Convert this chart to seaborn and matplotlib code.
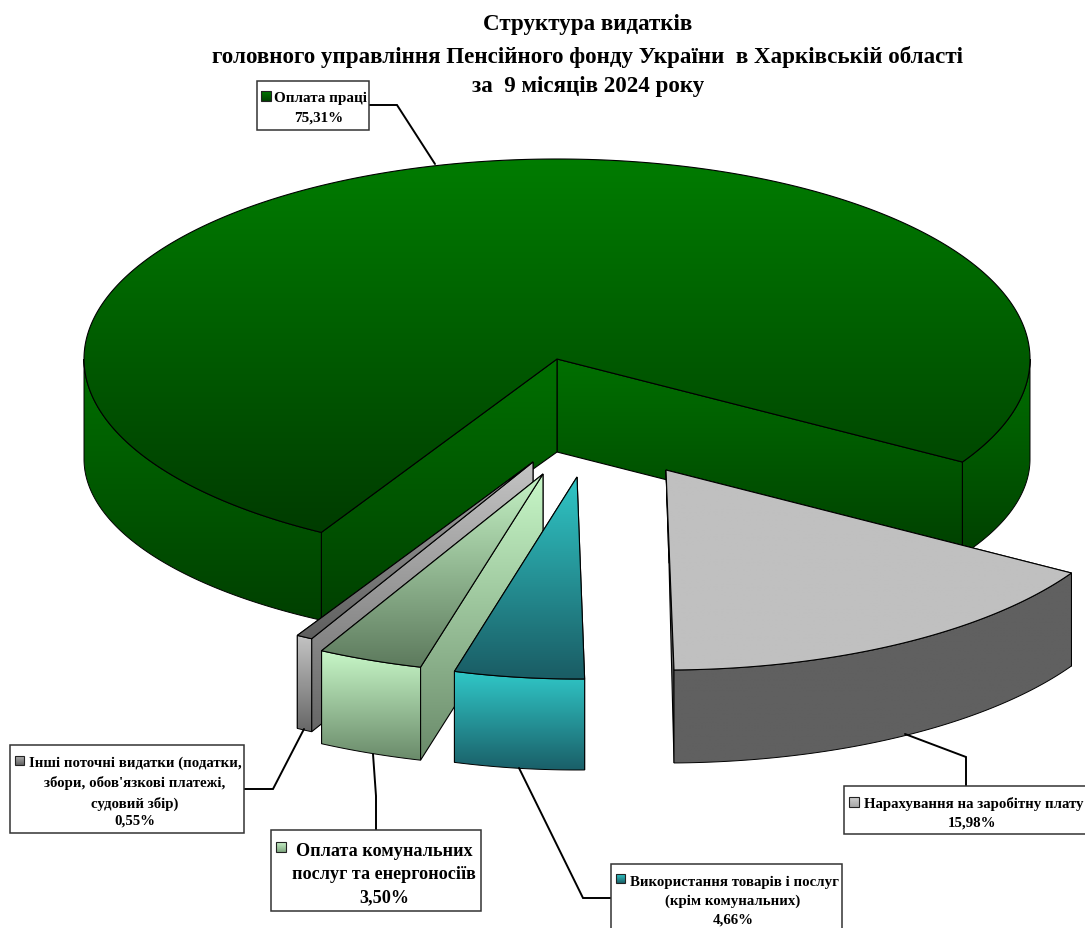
import numpy as np
import matplotlib
matplotlib.use("Agg")
import matplotlib.pyplot as plt
from matplotlib.patches import Polygon, Rectangle
import seaborn as sns

# ---------- data ----------
slice_names = ["Нарахування на заробітну плату", "Використання товарів і послуг",
               "Оплата комунальних", "Інші поточні видатки", "Оплата праці"]
slice_shares = [15.98, 4.66, 3.50, 0.55, 75.31]
title_lines = ["Структура видатків",
               "головного управління Пенсійного фонду України  в Харківській області",
               "за  9 місяців 2024 року"]
label_lines = [
    ["Нарахування на заробітну плату", "15,98%"],
    ["Використання товарів і послуг", "(крім комунальних)", "4,66%"],
    ["Оплата комунальних", "послуг та енергоносіїв", "3,50%"],
    ["Інші поточні видатки (податки,", "збори, обов'язкові платежі,", "судовий збір)", "0,55%"],
    ["Оплата праці", "75,31%"],
]

# ---------- style / layout ----------
START_ANGLE = 31.0
rxs = [473, 450, 473, 473, 473]
rys = [200, 202, 200, 200, 200]
angle_nudge = [(0, 0.5), (0.5, 0.5), (-0.3, 0), (0, 0), (0, 0)]
centres = [(666, 471), (577, 478), (543, 475), (533, 463), (557, 360)]
drops = [93, 91, 93, 93, 100]
ry_scale = [1, 1, 1, 1, 0.93]
apex_drop = [93, 92, 93, 93, 93]
apex_dx = [3, 0, 0, 0, 0]
top_cols = [("#c0c0c0", "#c0c0c0"), ("#30c6c6", "#1a5c64"), ("#c6f4c6", "#5d7a5d"),
            ("#a8a8a8", "#5e5e5e"), ("#007c00", "#003c00")]
wall_cols = [("#606060", "#606060"), ("#30c8c8", "#1a5f68"), ("#c8f8c8", "#6a8a6a"),
             ("#c4c4c4", "#666666"), ("#007000", "#004000")]
key_cols = [("#d0d0d0", "#a8a8a8"), ("#30c8c8", "#1a6068"), ("#c8f0c8", "#80a880"),
            ("#b0b0b0", "#606060"), ("#007800", "#004000")]
boxes = [(844, 787, 1090, 835), (611, 865, 842, 935), (271, 831, 481, 912),
         (10, 746, 244, 834), (257, 82, 369, 131)]
keys = [(849, 798), (616, 875), (276, 843), (15, 757), (261, 92)]
key_size = [10, 9, 10, 9, 10]
font_px = [14.9, 14.85, 18.15, 14.85, 15.1]
line_y = [[803, 822], [881, 900, 919], [850, 873, 896], [762, 782, 802, 820], [97, 117]]
first_x = [864, 630, 296, 29, 274]
centre_x = [972, 733, 384, 135, 319]
leaders = [[(905, 735), (966, 758), (966, 787)], [(519, 769), (583, 899), (611, 899)],
           [(373, 755), (376, 797), (376, 831)], [(244, 790), (273, 790), (304, 730)],
           [(369, 106), (397, 106), (435, 165)]]

sns.set_theme(style="white")
plt.rcParams["font.family"] = ["Liberation Serif", "DejaVu Serif"]

fig = plt.figure(figsize=(10.85, 9.29), dpi=100, facecolor="white")
ax = fig.add_axes([0, 0, 1, 1])
ax.set_xlim(0, 1085)
ax.set_ylim(929, 0)
ax.axis("off")

order = [0]
def z():
    order[0] += 1
    return order[0]

grad = np.linspace(0, 1, 256)[:, None]

def face(pts, cols, edge="black", lw=0.8):
    """Polygon with a vertical two-colour gradient built by seaborn's blend palette."""
    pts = np.asarray(pts)
    cmap = sns.blend_palette(list(cols), n_colors=128, as_cmap=True)
    x0, x1 = pts[:, 0].min(), pts[:, 0].max()
    y0, y1 = pts[:, 1].min(), pts[:, 1].max()
    zz = z()
    im = ax.imshow(grad, extent=(x0, x1, y1, y0), cmap=cmap, vmin=0, vmax=1,
                   aspect="auto", interpolation="bilinear", zorder=zz)
    clip = Polygon(pts, closed=True, transform=ax.transData, fill=False, edgecolor="none")
    ax.add_patch(clip)
    im.set_clip_path(clip)
    ax.add_patch(Polygon(pts, closed=True, fill=False, edgecolor=edge, linewidth=lw,
                         zorder=zz + 0.5, joinstyle="miter"))

def rim(i, t, bottom=False):
    c = centres[i]
    t = np.radians(np.asarray(t, dtype=float))
    ry = rys[i] * (ry_scale[i] if bottom else 1)
    dy = drops[i] if bottom else 0
    return np.column_stack([c[0] + rxs[i] * np.cos(t), c[1] + dy + ry * np.sin(t)])

def draw_slice(i, a0, a1):
    c = centres[i]
    apex = np.array([c])
    apex_b = np.array([[c[0] + apex_dx[i], c[1] + apex_drop[i]]])
    # inner walls: the hidden one first
    pair = (a1, a0) if (a0 + a1) / 2 > 90 else (a0, a1)
    for a in pair:
        face(np.vstack([apex, rim(i, [a]), rim(i, [a], True), apex_b]), wall_cols[i])
    # outer wall: only the part facing the viewer (0..180 deg modulo 360)
    for k in (0, 360):
        lo, hi = max(a0, k), min(a1, k + 180)
        if hi > lo:
            tt = np.linspace(lo, hi, 120)
            face(np.vstack([rim(i, tt), rim(i, tt[::-1], True)]), wall_cols[i], lw=0.7)
    # top
    tt = np.linspace(a0, a1, 500)
    face(np.vstack([apex, rim(i, tt)]), top_cols[i])

angles = START_ANGLE + np.concatenate([[0], np.cumsum(np.array(slice_shares) / sum(slice_shares) * 360)])
for i in [4, 3, 2, 1, 0]:
    draw_slice(i, angles[i] + angle_nudge[i][0], angles[i + 1] + angle_nudge[i][1])

# callouts
base = order[0] + 10
for i in range(len(slice_names)):
    pts = np.array(leaders[i])
    ax.plot(pts[:, 0], pts[:, 1], color="black", lw=1.4, zorder=base, solid_joinstyle="miter")
    x0, y0, x1, y1 = boxes[i]
    ax.add_patch(Rectangle((x0, y0), x1 - x0, y1 - y0, facecolor="white",
                           edgecolor="#333333", lw=1.1, zorder=base + 1))
    kx, ky = keys[i]
    s = key_size[i]
    cmap = sns.blend_palette(list(key_cols[i]), n_colors=64, as_cmap=True)
    ax.imshow(grad, extent=(kx, kx + s, ky + s, ky), cmap=cmap, aspect="auto", zorder=base + 2)
    ax.add_patch(Rectangle((kx, ky), s, s, fill=False, edgecolor="#222222", lw=0.8, zorder=base + 3))
    fs = font_px[i] * 0.72
    for j, line in enumerate(label_lines[i]):
        if j == 0:
            ax.text(first_x[i], line_y[i][j], line, ha="left", va="center_baseline",
                    fontsize=fs, fontweight="bold", color="black", zorder=base + 4)
        else:
            ax.text(centre_x[i], line_y[i][j], line, ha="center", va="center_baseline",
                    fontsize=fs, fontweight="bold", color="black", zorder=base + 4)

for line, y in zip(title_lines, [22, 54, 84]):
    ax.text(588, y, line, ha="center", va="center_baseline", fontsize=16.6,
            fontweight="bold", color="black", zorder=base + 5)

ax.set_xlim(0, 1085)
ax.set_ylim(929, 0)
fig.savefig("out.png", dpi=100, facecolor="white")
